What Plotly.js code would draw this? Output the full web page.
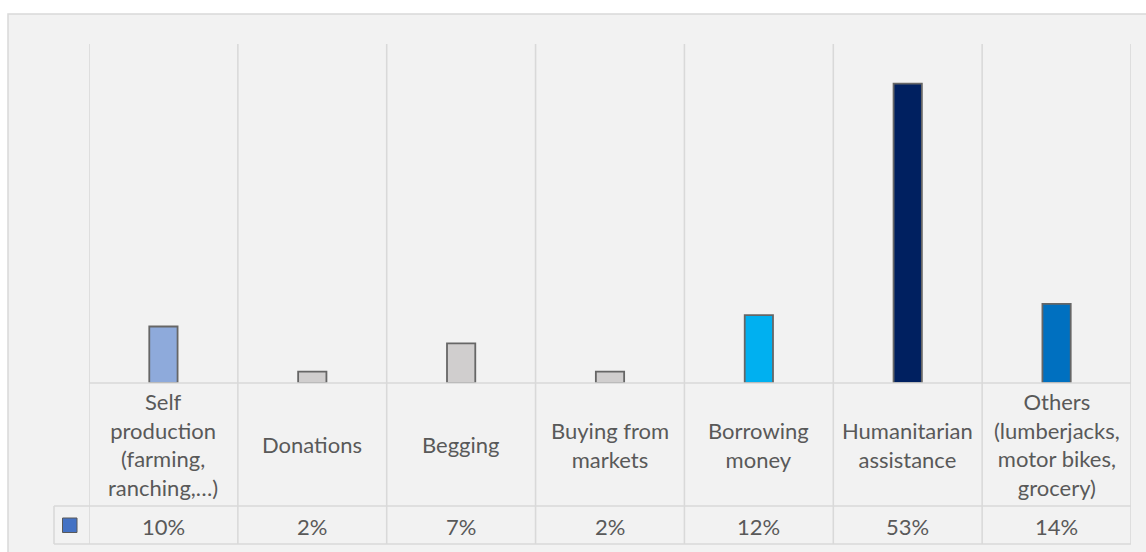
<!DOCTYPE html>
<html>
<head>
<meta charset="utf-8">
<script src="https://cdn.plot.ly/plotly-3.0.1.min.js"></script>
<style>html,body{margin:0;padding:0;background:#fff;}#chart{width:1146px;height:552px;}</style>
</head>
<body>
<div id="chart"></div>
<script>
// ---- data ----
const categories = ["Self production (farming, ranching,…)", "Donations", "Begging", "Buying from markets", "Borrowing money", "Humanitarian assistance", "Others (lumberjacks, motor bikes, grocery)"];
const categoryLabels = ["Self<br>production<br>(farming,<br>ranching,…)", "Donations", "Begging", "Buying from<br>markets", "Borrowing<br>money", "Humanitarian<br>assistance", "Others<br>(lumberjacks,<br>motor bikes,<br>grocery)"];
const values = [10, 2, 7, 2, 12, 53, 14];
const valueLabels = ["10%", "2%", "7%", "2%", "12%", "53%", "14%"];

// ---- styles ----
const barColors = ["#8eaadb", "#d0cece", "#d0cece", "#d0cece", "#00b0f0", "#002060", "#0070c0"];
const W = 1146, H = 552;
const L = 89, R = 1131, T = 44, B = 383;
const pw = R - L, ph = B - T;
const px = v => (v - L) / pw;
const py = v => (B - v) / ph;
const gridCol = "#d9d9d9";
const textCol = "#595959";
const fontFam = "Lato, 'Noto Sans', sans-serif";
const fontSize = 22;

const n = categories.length;
const shapes = [];
// chart area background
shapes.push({type: "rect", xref: "paper", yref: "paper", x0: px(8), x1: px(1160), y0: py(14), y1: py(570),
  fillcolor: "#f2f2f2", line: {color: gridCol, width: 1.5}, layer: "below"});
// vertical gridlines / table column lines
for (let i = 0; i <= n; i++) {
  shapes.push({type: "line", xref: "x", yref: "paper", x0: i - 0.5, x1: i - 0.5, y0: py(T), y1: py(544),
    line: {color: gridCol, width: 1.6}, layer: "below"});
}
// horizontal table lines
shapes.push({type: "line", xref: "paper", yref: "paper", x0: px(L), x1: px(R), y0: py(B), y1: py(B), line: {color: gridCol, width: 1.6}});
shapes.push({type: "line", xref: "paper", yref: "paper", x0: px(54), x1: px(R), y0: py(506), y1: py(506), line: {color: gridCol, width: 1.6}});
shapes.push({type: "line", xref: "paper", yref: "paper", x0: px(54), x1: px(R), y0: py(544), y1: py(544), line: {color: gridCol, width: 1.6}});
shapes.push({type: "line", xref: "paper", yref: "paper", x0: px(54), x1: px(54), y0: py(506), y1: py(544), line: {color: gridCol, width: 1.6}});
// legend key
shapes.push({type: "rect", xref: "paper", yref: "paper", x0: px(62.5), x1: px(77), y0: py(518), y1: py(532.5),
  fillcolor: "#4472c4", line: {color: "#595959", width: 1}});

const annotations = [];
for (let i = 0; i < n; i++) {
  annotations.push({x: categories[i], xref: "x", yref: "paper", y: py(445), text: categoryLabels[i],
    showarrow: false, xanchor: "center", yanchor: "middle", align: "center",
    font: {family: fontFam, size: fontSize, color: textCol}});
  annotations.push({x: categories[i], xref: "x", yref: "paper", y: py(526), text: valueLabels[i],
    showarrow: false, xanchor: "center", yanchor: "middle", align: "center",
    font: {family: fontFam, size: fontSize, color: textCol}});
}

const trace = {
  type: "bar",
  x: categories,
  y: values,
  width: 0.19,
  marker: {color: barColors, line: {color: "#666666", width: 1.8}},
  hoverinfo: "skip"
};

const layout = {
  width: W, height: H,
  margin: {l: L, r: W - R, t: T, b: H - B, pad: 0},
  paper_bgcolor: "#ffffff",
  plot_bgcolor: "rgba(0,0,0,0)",
  showlegend: false,
  xaxis: {type: "category", range: [-0.5, n - 0.5], showticklabels: false, showgrid: false, zeroline: false, showline: false, ticks: ""},
  yaxis: {range: [0, 60], showticklabels: false, showgrid: false, zeroline: false, showline: false, ticks: ""},
  shapes: shapes,
  annotations: annotations,
  font: {family: fontFam, color: textCol}
};

Plotly.newPlot("chart", [trace], layout, {displayModeBar: false, staticPlot: true});
</script>
</body>
</html>
